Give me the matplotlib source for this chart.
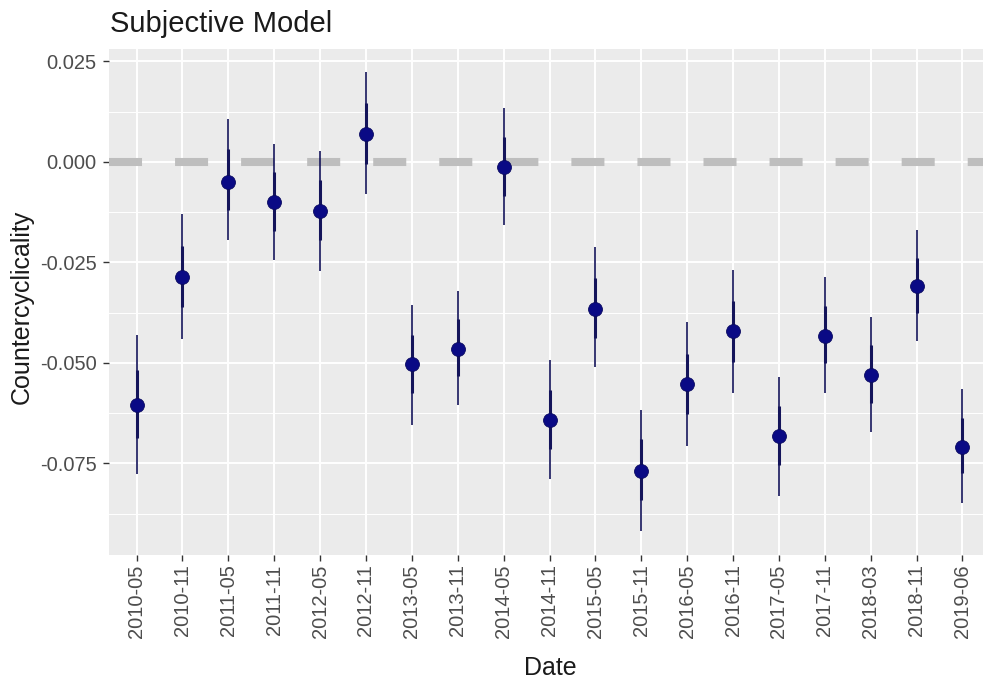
import numpy as np
import matplotlib.pyplot as plt
from matplotlib.ticker import MultipleLocator

# ── Data ──────────────────────────────────────────────────────────────────────
dates = ["2010-05", "2010-11", "2011-05", "2011-11", "2012-05", "2012-11",
         "2013-05", "2013-11", "2014-05", "2014-11", "2015-05", "2015-11",
         "2016-05", "2016-11", "2017-05", "2017-11", "2018-03", "2018-11",
         "2019-06"]

estimate = [-0.0605, -0.0287, -0.0049, -0.0100, -0.0123, 0.0070,
            -0.0504, -0.0465, -0.0012, -0.0643, -0.0365, -0.0769,
            -0.0552, -0.0421, -0.0682, -0.0434, -0.0531, -0.0308,
            -0.0709]

# outer interval (thin line)
outer_hi = [-0.0430, -0.0129, 0.0106, 0.0045, 0.0028, 0.0224,
            -0.0355, -0.0320, 0.0133, -0.0492, -0.0212, -0.0616,
            -0.0399, -0.0268, -0.0535, -0.0286, -0.0387, -0.0169,
            -0.0565]
outer_lo = [-0.0776, -0.0440, -0.0194, -0.0245, -0.0271, -0.0080,
            -0.0655, -0.0606, -0.0158, -0.0790, -0.0511, -0.0918,
            -0.0707, -0.0576, -0.0831, -0.0576, -0.0671, -0.0445,
            -0.0849]

# inner interval (thick line)
inner_hi = [-0.0517, -0.0208, 0.0032, -0.0026, -0.0046, 0.0146,
            -0.0430, -0.0391, 0.0061, -0.0568, -0.0290, -0.0690,
            -0.0477, -0.0347, -0.0608, -0.0359, -0.0456, -0.0238,
            -0.0637]
inner_lo = [-0.0686, -0.0362, -0.0119, -0.0171, -0.0194, -0.0006,
            -0.0576, -0.0532, -0.0084, -0.0715, -0.0438, -0.0841,
            -0.0628, -0.0498, -0.0754, -0.0500, -0.0599, -0.0376,
            -0.0775]

y_ticks = [0.025, 0.000, -0.025, -0.050, -0.075]

# ── Style ─────────────────────────────────────────────────────────────────────
plt.rcParams["font.family"] = ["Liberation Sans", "DejaVu Sans"]

W, H = 983, 682
fig = plt.figure(figsize=(W / 100, H / 100), dpi=100)

# panel in pixel coords: left 109, right 990 (cropped), top 49, bottom 555
left, right, top, bottom = 109, 990, 49, 555
ax = fig.add_axes([left / W, 1 - bottom / H, (right - left) / W, (bottom - top) / H])

ax.set_facecolor("#EBEBEB")
for s in ax.spines.values():
    s.set_visible(False)

x = np.arange(len(dates))

# zero reference line
ax.axhline(0, color="#BEBEBE", lw=5.8, dashes=(4.1, 4.1), solid_capstyle="butt",
           dash_capstyle="butt", zorder=1)

ax.vlines(x, outer_lo, outer_hi, color="#14145A", lw=1.2, zorder=3)
ax.vlines(x, inner_lo, inner_hi, color="#14145A", lw=2.2, zorder=3)
ax.plot(x, estimate, "o", ms=10, color="#0A0A85", mec="#0A0A60", mew=0.6, zorder=4)

ax.set_xlim(-0.6, len(dates) - 0.4)
ax.set_ylim(-0.0978, 0.0281)

ax.set_xticks(x)
ax.set_xticklabels(dates, rotation=90)
ax.set_yticks(y_ticks)
ax.set_yticklabels([f"{v:.3f}" for v in y_ticks])
ax.yaxis.set_minor_locator(MultipleLocator(0.0125))

ax.grid(which="major", color="white", lw=1.4, zorder=0)
ax.grid(which="minor", axis="y", color="white", lw=0.7, zorder=0)
ax.set_axisbelow(True)

ax.tick_params(axis="both", which="major", length=4.3, width=1.0, color="#333333",
               labelcolor="#4D4D4D", labelsize=14.5, pad=2.5)
ax.tick_params(axis="y", which="major", pad=4.5)
ax.tick_params(axis="both", which="minor", length=0)

fig.text(left / W + 0.001, 1 - 32 / H, "Subjective Model", fontsize=21,
         color="#1A1A1A", ha="left", va="baseline")
fig.text(550 / W, 1 - 668 / H, "Date", fontsize=18, color="#1A1A1A",
         ha="center", va="center")
fig.text(22 / W, 1 - 307 / H, "Countercyclicality", fontsize=18, color="#1A1A1A",
         rotation=90, ha="center", va="center")

fig.savefig("out.png", dpi=100)
